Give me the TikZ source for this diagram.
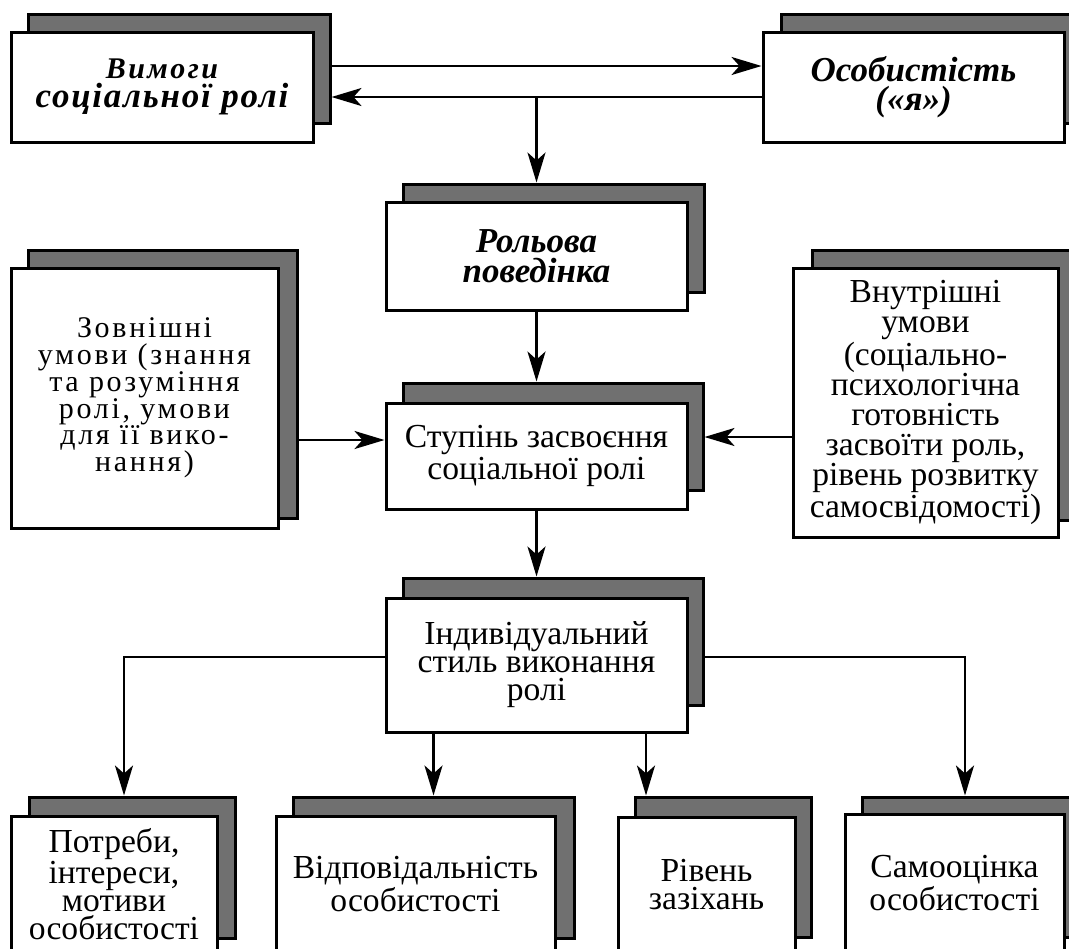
\documentclass[tikz,border=0pt]{standalone}
\usepackage{fontspec}
\setmainfont{Liberation Serif}
\usetikzlibrary{arrows.meta,calc}

\definecolor{shadowgray}{RGB}{112,112,112}

\tikzset{
  frontbox/.style={draw=black, fill=white, line width=1.5pt, inner sep=0pt,
    align=center, font=\fontsize{16.8}{14}\selectfont},
  shadowbox/.style={draw=black, fill=shadowgray, line width=1.5pt, inner sep=0pt},
  conn/.style={draw=black, line width=1.4pt,
    -{Stealth[length=15pt,width=9pt,inset=4pt]}},
  headtext/.style={font=\fontsize{17.5}{14.8}\selectfont\bfseries\itshape},
}

% a box given by its corners (pixel grid, y downwards)
\newcommand\shadowat[5]{%
  \pgfmathsetmacro\bw{(#4-#2)*0.5}\pgfmathsetmacro\bh{(#5-#3)*0.5}%
  \node[shadowbox, minimum width=\bw pt, minimum height=\bh pt]
    (#1) at ({(#2+#4)/2},{(#3+#5)/2}) {};}
\newcommand\frontat[7][]{%
  \pgfmathsetmacro\bw{(#5-#3)*0.5}\pgfmathsetmacro\bh{(#6-#4)*0.5}%
  \node[frontbox, minimum width=\bw pt, minimum height=\bh pt, #1]
    (#2) at ({(#3+#5)/2},{(#4+#6)/2}) {#7};}

\begin{document}
\begin{tikzpicture}[x=0.5pt,y=-0.5pt]
\useasboundingbox (0,0) rectangle (1069,948);
\clip (0,0) rectangle (1069,948);

% top row
\shadowat{s1}{28}{14}{330}{123}
\frontat[headtext]{f1}{11}{32}{313}{142}%
  {{\fontsize{15}{14.8}\selectfont\addfontfeatures{LetterSpace=8}Вимоги}\\
   {\addfontfeatures{LetterSpace=5}соціальної ролі}}
\shadowat{s2}{781}{14}{1082}{123}
\frontat[headtext]{f2}{763}{32}{1064}{142}{Особистість\\(«я»)}

% role behaviour
\shadowat{s3}{403}{184}{704}{292}
\frontat[headtext]{f3}{386}{202}{687}{310}{Рольова\\поведінка}

% conditions
\shadowat{s4}{28}{250}{297}{518}
\frontat[font=\fontsize{15}{13.4}\selectfont\addfontfeatures{LetterSpace=9}]{f4}{11}{268}{278}{528}%
  {Зовнішні\\умови (знання\\та розуміння\\ролі, умови\\для її вико-\\нання)}
\shadowat{s5}{812}{250}{1076}{520}
\frontat[font=\fontsize{16.8}{15}\selectfont]{f5}{793}{268}{1058}{537}%
  {Внутрішні\\умови\\(соціально-\\психологічна\\готовність\\засвоїти роль,\\рівень розвитку\\самосвідомості)}

% degree of mastering
\shadowat{s6}{403}{383}{703}{490}
\frontat{f6}{386}{403}{687}{509}{Ступінь засвоєння\\соціальної ролі}

% individual style
\shadowat{s7}{403}{578}{703}{705}
\frontat{f7}{386}{598}{687}{732}{Індивідуальний\\стиль виконання\\ролі}

% bottom row
\shadowat{s8}{29}{797}{235}{938}
\frontat{f8}{11}{816}{217}{952}{Потреби,\\інтереси,\\мотиви\\особистості}
\shadowat{s9}{293}{797}{574}{938}
\frontat{f9}{276}{816}{555}{952}{Відповідальність\\особистості}
\shadowat{s10}{635}{797}{811}{937}
\frontat{f10}{618}{817}{795}{952}{Рівень\\зазіхань}
\shadowat{s11}{862}{797}{1080}{937}
\frontat{f11}{845}{814}{1064}{952}{Самооцінка\\особистості}

% connectors
\coordinate (r1) at (0,66);
\coordinate (r2) at (0,97);
\coordinate (r3) at (0,440);
\coordinate (r4) at (0,437);
\coordinate (r5) at (0,657);
\coordinate (c1) at (646,0);

\draw[conn] (s1.east |- r1) -- (f2.west |- r1);
\draw[conn] (f2.west |- r2) -- (s1.east |- r2);
\draw[conn] (f3.north |- r2) -- (f3.north |- s3.north);
\draw[conn] (f3.south) -- (f3.south |- s6.north);
\draw[conn] (s4.east |- r3) -- (f6.west |- r3);
\draw[conn] (f5.west |- r4) -- (s6.east |- r4);
\draw[conn] (f6.south) -- (f6.south |- s7.north);
\draw[conn] (f7.west |- r5) -| ([xshift=-4pt]s8.north);
\draw[conn] (s7.east |- r5) -| ([xshift=-3pt]s11.north);
\draw[conn] (s9.north |- f7.south) -- (s9.north);
\draw[conn] (c1 |- f7.south) -- (c1 |- s10.north);
\end{tikzpicture}
\end{document}
